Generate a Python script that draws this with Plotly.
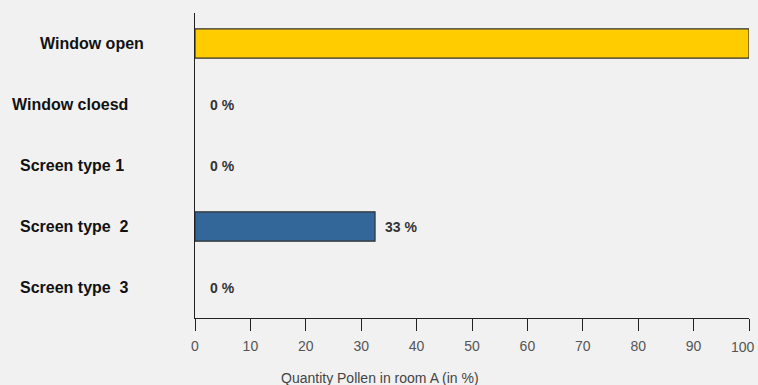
import plotly.graph_objects as go

categories = ["Window open", "Window cloesd", "Screen type 1", "Screen type  2", "Screen type  3"]
values = [100, 0, 0, 32.5, 0]
value_labels = ["", "0 %", "0 %", "33 %", "0 %"]
bar_colors = ["#FFCC00", "#FFCC00", "#FFCC00", "#336699", "#FFCC00"]
x_ticks = [0, 10, 20, 30, 40, 50, 60, 70, 80, 90, 100]
x_title = "Quantity Pollen in room A (in %)"

W, H = 758, 385
L, R, T, B = 195, 9, 13, 67
pw = W - L - R
ph = H - T - B

tick_font = dict(family="Liberation Sans, Arial", size=14, color="#555555")

fig = go.Figure()
fig.add_trace(go.Bar(
    y=categories, x=values, orientation="h",
    marker=dict(color=bar_colors, line=dict(color="#333333",
                                            width=[1.2 if v > 0 else 0 for v in values])),
    width=0.48, hoverinfo="x+y",
))

# value labels
for cat, v, lab in zip(categories, values, value_labels):
    if lab:
        fig.add_annotation(x=v, y=cat, text="<b>" + lab + "</b>", showarrow=False,
                           xanchor="left", xshift=8 if v > 0 else 13,
                           font=dict(family="Liberation Sans, Arial", size=14, color="#333333"))

# category labels (left side)
label_left_px = [38, 10, 18, 18, 18]
for cat, px in zip(categories, label_left_px):
    fig.add_annotation(xref="paper", x=(px - L) / pw, y=cat,
                       text="<b>" + cat.replace("  ", "&nbsp; ") + "</b>",
                       showarrow=False, xanchor="left",
                       font=dict(family="Liberation Sans, Arial", size=16, color="#111111"))

# last tick label kept inside the canvas (as in the reference)
tick_text = [str(t) for t in x_ticks]
last_label = tick_text[-1]
tick_text[-1] = ""
fig.add_annotation(x=x_ticks[-1], xref="x", yref="paper", y=0, text=last_label,
                   showarrow=False, xanchor="right", yanchor="middle", xshift=8, yshift=-29,
                   font=tick_font)

# x-axis title
fig.add_annotation(xref="paper", yref="paper", x=(380 - L) / pw, y=-(378 - (H - B)) / ph,
                   text=x_title, showarrow=False, xanchor="center", yanchor="middle",
                   font=dict(family="Liberation Sans, Arial", size=14, color="#444444"))

fig.update_layout(
    width=W, height=H,
    margin=dict(l=L, r=R, t=T, b=B, autoexpand=False),
    paper_bgcolor="#f1f1f1", plot_bgcolor="#f1f1f1",
    showlegend=False,
    xaxis=dict(range=[0, 100], tickvals=x_ticks, ticktext=tick_text, ticks="outside", ticklen=12,
               tickcolor="#222222",
               showline=True, linecolor="#222222", linewidth=1, showgrid=False, zeroline=False,
               ticklabelstandoff=3, automargin=False, tickfont=tick_font),
    yaxis=dict(autorange="reversed", showticklabels=False, showline=True, linecolor="#222222",
               linewidth=1, ticks="", showgrid=False, zeroline=False, automargin=False),
)

fig.write_html("out.html")
